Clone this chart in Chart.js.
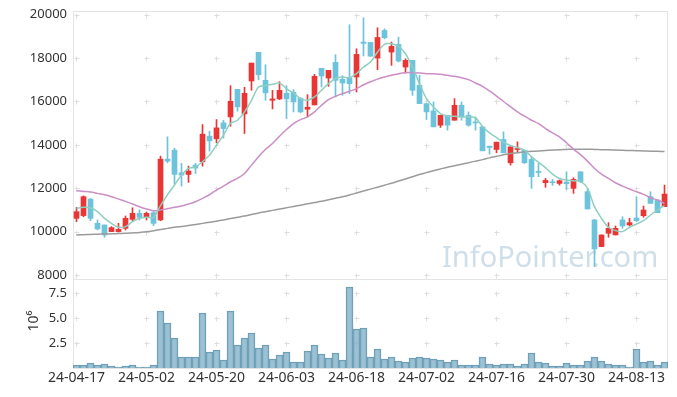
<!DOCTYPE html>
<html>
<head>
<meta charset="utf-8">
<script src="https://cdn.jsdelivr.net/npm/chart.js@4.4.1/dist/chart.umd.min.js"></script>
<style>
  body { margin: 0; background: #fff; }
  #wrap { position: relative; width: 677px; height: 397px; }
  #price { position: absolute; left: 0; top: 0; }
  #volume { position: absolute; left: 0; top: 270px; }
</style>
</head>
<body>
<div id="wrap">
  <canvas id="price" width="677" height="290"></canvas>
  <canvas id="volume" width="677" height="127"></canvas>
</div>
<script>
// trading days
const dates = [
  '24-04-17','24-04-18','24-04-19','24-04-22','24-04-23','24-04-24','24-04-25','24-04-26','24-04-29','24-04-30',
  '24-05-02','24-05-03','24-05-07','24-05-08','24-05-09','24-05-10','24-05-13','24-05-14','24-05-16','24-05-17',
  '24-05-20','24-05-21','24-05-22','24-05-23','24-05-24','24-05-27','24-05-28','24-05-29','24-05-30','24-05-31',
  '24-06-03','24-06-04','24-06-05','24-06-07','24-06-10','24-06-11','24-06-12','24-06-13','24-06-14','24-06-17',
  '24-06-18','24-06-19','24-06-20','24-06-21','24-06-24','24-06-25','24-06-26','24-06-27','24-06-28','24-07-01',
  '24-07-02','24-07-03','24-07-04','24-07-05','24-07-08','24-07-09','24-07-10','24-07-11','24-07-12','24-07-15',
  '24-07-16','24-07-17','24-07-18','24-07-19','24-07-22','24-07-23','24-07-24','24-07-25','24-07-26','24-07-29',
  '24-07-30','24-07-31','24-08-01','24-08-02','24-08-05','24-08-06','24-08-07','24-08-08','24-08-09','24-08-12',
  '24-08-13','24-08-14','24-08-16','24-08-19','24-08-20'
];

const opens = [
  10613,10740,11500,10383,10307,10000,10000,10153,10567,10843,
  10644,10874,10537,13342,13756,12713,12637,13066,13220,14400,
  14277,15013,15289,16560,15427,16945,18263,16975,16056,16117,
  16377,16423,16147,15642,15841,17527,17082,17803,17021,17082,
  17128,18738,18723,18000,19275,18278,18631,17588,17895,16745,
  15902,15565,14906,15365,15136,15826,15365,15059,14830,13940,
  13787,14246,13173,13786,13756,13327,12775,12254,12300,12223,
  12284,11993,12760,11840,10537,9310,9923,9847,10537,10307,
  10629,10736,11610,11456,11150
];
const highs = [
  11119,11650,11530,10537,10307,10230,10383,10720,11100,10997,
  10905,10920,13480,14370,13848,13143,13020,13143,14936,14630,
  15166,15135,16730,16560,16653,17770,18263,17695,16515,16914,
  16730,16546,16178,16316,17250,17527,17435,18156,17190,19535,
  18431,19857,18723,19400,19350,18738,18968,17972,17895,17205,
  15902,15979,15365,15365,16132,15979,15519,15289,14830,13940,
  14124,14600,13909,14140,13756,13450,13143,12453,12407,12380,
  12760,12483,12760,11993,10567,9847,10414,10260,10690,10613,
  11610,11180,11840,11456,12146
];
const lows = [
  10460,10690,10500,10077,9740,10000,9980,10077,10506,10537,
  10537,10276,10506,13173,12190,12100,12270,12683,13020,13710,
  14093,14307,14860,15550,14522,16515,17000,16055,15657,16086,
  15212,15519,15473,15289,15841,16668,16700,16208,16285,16362,
  16438,18100,18079,17466,18890,17665,17818,17312,16285,15902,
  15166,14830,14800,14677,15136,15136,14860,14677,13725,13572,
  13633,13633,13066,13680,13143,11993,12530,12040,12131,12146,
  11947,11763,12254,11043,8390,9310,9740,9847,10153,10261,
  10460,10660,11303,10874,11150
];
const closes = [
  10920,11610,10613,10123,9847,10184,10107,10613,10843,10660,
  10843,10383,13342,13250,12640,12606,12790,12928,14490,14185,
  14783,14752,16010,15750,16377,17770,17234,16400,16117,16515,
  16117,15979,15519,15733,17159,17174,17435,16975,16853,16822,
  18171,18677,18090,18950,18937,18539,17864,17895,16515,15902,
  15519,14830,15365,14906,15826,15289,14906,15013,13725,13878,
  14124,13633,13909,13832,13173,12530,12729,12361,12254,12346,
  12207,12407,12300,11043,9203,9847,10153,10153,10261,10414,
  10506,10997,11303,10874,11732
];

// moving average lines
const maShort = [
  11073,11119,11100,10920,10613,10383,10200,10230,10460,10613,
  10660,10660,11200,11700,12150,12600,12913,12990,13220,13526,
  13986,14446,14982,15135,15519,16055,16668,16740,16791,16853,
  16592,16393,16132,16055,16208,16515,16822,17052,17128,17098,
  17282,17588,17818,18278,18631,18661,18539,18202,17588,16822,
  16132,15750,15442,15335,15320,15289,15289,15240,14850,14550,
  14338,14124,13970,13879,13756,13450,13200,12950,12650,12450,
  12380,12340,12320,12000,11150,10613,10200,10046,10000,10200,
  10353,10506,10767,10997,11200
];
const maMid = [
  11886,11855,11824,11763,11700,11610,11500,11395,11272,11150,
  11042,10966,10997,11058,11119,11180,11272,11380,11533,11700,
  11916,12100,12300,12453,12683,13066,13450,13800,14062,14400,
  14706,14982,15166,15289,15519,15825,16086,16240,16362,16470,
  16592,16770,16910,17030,17128,17205,17282,17327,17327,17312,
  17282,17282,17250,17205,17160,17098,17006,16853,16700,16485,
  16250,16000,15760,15520,15320,15135,14982,14752,14553,14370,
  14100,13800,13550,13250,12913,12652,12453,12253,12100,11962,
  11840,11717,11564,11456,11303
];
const maLong = [
  9850,9860,9870,9880,9890,9900,9910,9920,9940,9960,
  9990,10040,10100,10150,10200,10240,10280,10330,10380,10430,
  10480,10540,10600,10660,10720,10790,10860,10920,10980,11040,
  11100,11160,11220,11280,11340,11400,11470,11540,11610,11690,
  11780,11870,11960,12050,12140,12230,12330,12430,12530,12630,
  12720,12810,12890,12970,13040,13110,13180,13250,13320,13400,
  13470,13540,13600,13640,13680,13700,13720,13740,13760,13780,
  13790,13800,13800,13800,13790,13780,13770,13760,13750,13740,
  13730,13720,13710,13700,13690
];

// volume in millions
const volumes = [
  0.3,0.3,0.5,0.3,0.4,0.2,0.1,0.2,0.3,0.1,
  0.1,0.3,5.7,4.5,3.0,1.1,1.1,1.1,5.5,1.6,
  1.8,0.8,5.7,2.3,3.0,3.5,2.0,2.3,0.9,1.3,
  1.6,0.6,0.6,1.7,2.3,1.4,1.0,1.5,0.8,8.1,
  3.9,4.0,1.1,1.9,0.9,1.1,0.7,0.6,1.0,1.1,
  1.0,0.9,0.8,0.6,0.8,0.3,0.3,0.3,1.1,0.4,
  0.3,0.4,0.4,0.2,0.4,1.5,0.6,0.5,0.2,0.2,
  0.5,0.3,0.3,0.7,1.1,0.7,0.4,0.3,0.3,0.1,
  1.9,0.6,0.7,0.3,0.6
];

const priceTicks = [8000, 10000, 12000, 14000, 16000, 18000, 20000];
const volumeTicks = [2.5, 5.0, 7.5];
const labelEvery = 10;

const upColor = '#ea3535';
const downColor = '#6cc3db';
const candleColors = closes.map((c, i) => c >= opens[i] ? upColor : downColor);
const font = 'Noto Sans';

// fixed axis width, and stop the tick labels from pushing the plot area in
function fixLeftAxis(s) {
  s.width = 73;
  s.paddingTop = 0;
  s.paddingBottom = 0;
}

// border box + little "+" marks where the grid lines would cross
const gridMarks = {
  id: 'gridMarks',
  beforeDatasetsDraw(chart, args, opts) {
    const { ctx, chartArea: a, scales } = chart;
    ctx.save();
    ctx.strokeStyle = '#e4e4e4';
    ctx.lineWidth = 1;
    ctx.strokeRect(a.left + 0.5, a.top + 0.5, a.right - a.left - 1, a.bottom - a.top);
    ctx.strokeStyle = '#dedede';
    opts.values.forEach(v => {
      const py = Math.round(scales.y.getPixelForValue(v)) + 0.5;
      for (let i = 0; i < dates.length; i += labelEvery) {
        const px = Math.floor(scales.x.getPixelForValue(i)) + 0.5;
        ctx.beginPath();
        ctx.moveTo(px - 2, py); ctx.lineTo(px + 3, py);
        ctx.moveTo(px, py - 2); ctx.lineTo(px, py + 3);
        ctx.stroke();
      }
    });
    if (opts.watermark) {
      ctx.font = '29px "' + font + '"';
      ctx.fillStyle = 'rgba(175, 202, 218, 0.6)';
      ctx.textBaseline = 'alphabetic';
      ctx.fillText(opts.watermark, 442, 267);
    }
    if (opts.title) {
      ctx.translate(38, 51);
      ctx.rotate(-Math.PI / 2);
      ctx.font = '14px "' + font + '"';
      ctx.fillStyle = '#333';
      ctx.textAlign = 'center';
      ctx.fillText(opts.title, 0, 0);
    }
    ctx.restore();
  }
};

const priceChart = new Chart(document.getElementById('price'), {
  type: 'bar',
  data: {
    labels: dates,
    datasets: [
      { type: 'line', data: maShort, borderColor: '#8fcfc0', borderWidth: 1.5, pointRadius: 0, tension: 0.3, order: 0 },
      { type: 'line', data: maMid, borderColor: '#cb8ec6', borderWidth: 1.5, pointRadius: 0, tension: 0.3, order: 0 },
      { type: 'line', data: maLong, borderColor: '#9b9b9b', borderWidth: 1.5, pointRadius: 0, tension: 0.3, order: 0 },
      // wicks
      { data: lows.map((l, i) => [l, highs[i]]), backgroundColor: candleColors, barThickness: 1, grouped: false, order: 2 },
      // bodies
      { data: opens.map((o, i) => [o, closes[i]]), backgroundColor: candleColors, barThickness: 5, grouped: false, minBarLength: 1, order: 1 }
    ]
  },
  options: {
    responsive: false,
    animation: false,
    events: [],
    layout: { padding: { top: 11, right: 9, bottom: 11, left: 0 } },
    plugins: {
      legend: { display: false },
      tooltip: { enabled: false },
      gridMarks: { values: priceTicks, watermark: 'InfoPointer.com' }
    },
    scales: {
      x: { display: false, offset: true },
      y: {
        min: 7816,
        max: 20171,
        afterBuildTicks: s => { s.ticks = priceTicks.map(v => ({ value: v })); },
        afterFit: fixLeftAxis,
        grid: { display: false, drawTicks: false },
        border: { display: false },
        ticks: { color: '#333', padding: 6, font: { family: font, size: 13 }, callback: v => String(v) }
      }
    }
  },
  plugins: [gridMarks]
});

const volumeChart = new Chart(document.getElementById('volume'), {
  type: 'bar',
  data: {
    labels: dates,
    datasets: [{
      data: volumes,
      backgroundColor: 'rgba(128, 176, 199, 0.78)',
      borderColor: '#6c9db5',
      borderWidth: 1,
      barPercentage: 1,
      categoryPercentage: 1
    }]
  },
  options: {
    responsive: false,
    animation: false,
    events: [],
    layout: { padding: { top: 9, right: 9, bottom: 0, left: 0 } },
    plugins: {
      legend: { display: false },
      tooltip: { enabled: false },
      gridMarks: { values: volumeTicks, title: '10\u2076' }
    },
    scales: {
      x: {
        offset: true,
        afterFit: s => { s.height = 29; },
        grid: { display: false, drawTicks: false },
        border: { display: false },
        ticks: {
          autoSkip: false,
          maxRotation: 0,
          padding: 2,
          color: '#333',
          font: { family: font, size: 14 },
          callback: (v, i) => i % labelEvery === 0 ? dates[i] : ''
        }
      },
      y: {
        min: 0,
        max: 8.9,
        afterBuildTicks: s => { s.ticks = volumeTicks.map(v => ({ value: v })); },
        afterFit: fixLeftAxis,
        grid: { display: false, drawTicks: false },
        border: { display: false },
        ticks: { color: '#333', padding: 6, font: { family: font, size: 13 }, callback: v => v.toFixed(1) }
      }
    }
  },
  plugins: [gridMarks]
});
</script>
</body>
</html>
